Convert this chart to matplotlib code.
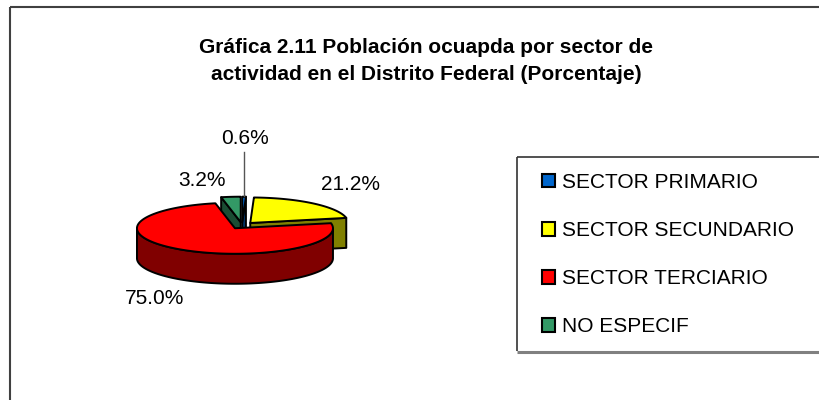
import numpy as np
import matplotlib
matplotlib.use("Agg")
import matplotlib.pyplot as plt
from matplotlib.patches import Polygon, Patch

# ---- data ----
categories = ["SECTOR PRIMARIO", "SECTOR SECUNDARIO", "SECTOR TERCIARIO", "NO ESPECIF"]
values = [0.6, 21.2, 75.0, 3.2]
value_labels = ["0.6%", "21.2%", "75.0%", "3.2%"]
title = "Gráfica 2.11 Población ocuapda por sector de\nactividad en el Distrito Federal (Porcentaje)"

top_colors = ["#0066CC", "#FFFF00", "#FF0000", "#339966"]
side_colors = ["#003366", "#808000", "#800000", "#1A4D33"]

# ---- layout (pixels) ----
W, H = 819, 400
CX, CY = 242.0, 225.5
RX, RY = 98.0, 25.5
DEPTH = 30.0
EXPL = 0.13
label_pos = [(245, 138), (350, 185), (155, 298), (202, 180)]

plt.rcParams['font.family'] = ['Liberation Sans', 'DejaVu Sans']
fig = plt.figure(figsize=(W / 100, H / 100), dpi=100)
ax = fig.add_axes([0, 0, 1, 1])
ax.set_xlim(0, W)
ax.set_ylim(H, 0)
ax.axis("off")

# outer chart frame (only left and top edges visible)
ax.plot([10, 10], [H, 7], color="#404040", lw=1.5, zorder=1, solid_capstyle="butt")
ax.plot([10, W - 0.5], [7, 7], color="#404040", lw=1.5, zorder=1, solid_capstyle="butt")

ax.text(426, 61, title, ha="center", va="center", fontsize=15, fontweight="bold",
        linespacing=1.55, zorder=5)

total = float(sum(values))
fracs = [v / total for v in values]

slices = []
theta = 90.0
for i, f in enumerate(fracs):
    t2 = theta
    t1 = theta - 360.0 * f
    theta = t1
    m = 0.5 * (t1 + t2)
    ox = EXPL * RX * np.cos(np.radians(m))
    oy = -EXPL * RY * np.sin(np.radians(m))
    slices.append(dict(i=i, t1=t1, t2=t2, m=m, cx=CX + ox, cy=CY + oy))


def rim(s, t, dz=0.0):
    t = np.radians(t)
    return (s["cx"] + RX * np.cos(t), s["cy"] - RY * np.sin(t) + dz)


lw = 1.4
order = sorted(slices, key=lambda s: -np.sin(np.radians(s["m"])))
for s in order:
    i = s["i"]
    apex = (s["cx"], s["cy"])
    apex_d = (s["cx"], s["cy"] + DEPTH)
    # radial faces
    for t, vis in ((s["t1"], np.cos(np.radians(s["t1"])) > 1e-9),
                   (s["t2"], np.cos(np.radians(s["t2"])) < -1e-9)):
        if vis:
            p = rim(s, t)
            pd = rim(s, t, DEPTH)
            ax.add_patch(Polygon([apex, p, pd, apex_d], closed=True, facecolor=side_colors[i],
                                 edgecolor="black", lw=lw, joinstyle="round", zorder=2))
    # outer wall: parts where sin(t) < 0
    k0 = int(np.floor((s["t1"] - 180) / 360.0)) - 1
    for k in range(k0, k0 + 4):
        a = max(s["t1"], 180 + 360 * k)
        b = min(s["t2"], 360 + 360 * k)
        if b - a > 1e-6:
            ts = np.linspace(a, b, 120)
            top = [rim(s, t) for t in ts]
            bot = [rim(s, t, DEPTH) for t in ts[::-1]]
            ax.add_patch(Polygon(top + bot, closed=True, facecolor=side_colors[i],
                                 edgecolor="black", lw=lw, joinstyle="round", zorder=2))
    # top face
    ts = np.linspace(s["t1"], s["t2"], max(3, int((s["t2"] - s["t1"]) * 2)))
    pts = [apex] + [rim(s, t) for t in ts]
    ax.add_patch(Polygon(pts, closed=True, facecolor=top_colors[i], edgecolor="black",
                         lw=lw, joinstyle="round", zorder=2))

# data labels
for s, lab, (lx, ly) in zip(slices, value_labels, label_pos):
    ax.text(lx, ly, lab, ha="center", va="center", fontsize=15, zorder=6)

# leader line for the small slice
s0 = slices[0]
px, py = rim(s0, s0["m"])
ax.plot([px, px], [label_pos[0][1] + 14, py - 1], color="#555555", lw=1, zorder=6)

# legend frame: left/top dark edge, gray shadow at bottom
ax.plot([517, W - 0.5], [352, 352], color="#808080", lw=2.2, zorder=3, solid_capstyle="butt")
ax.plot([517, 517], [351, 157], color="#333333", lw=1.2, zorder=3, solid_capstyle="butt")
ax.plot([517, W - 0.5], [157, 157], color="#333333", lw=1.2, zorder=3, solid_capstyle="butt")

handles = [Patch(facecolor=c, edgecolor="black", lw=1.5) for c in top_colors]
leg = ax.legend(handles, categories, loc="upper left",
                bbox_to_anchor=(542 / W, 1 - 173 / H), bbox_transform=fig.transFigure,
                frameon=False, fontsize=15, borderpad=0, borderaxespad=0,
                handlelength=0.62, handleheight=0.62, handletextpad=0.35,
                labelspacing=1.4)
leg.set_zorder(7)

fig.savefig("out.png", dpi=100)
